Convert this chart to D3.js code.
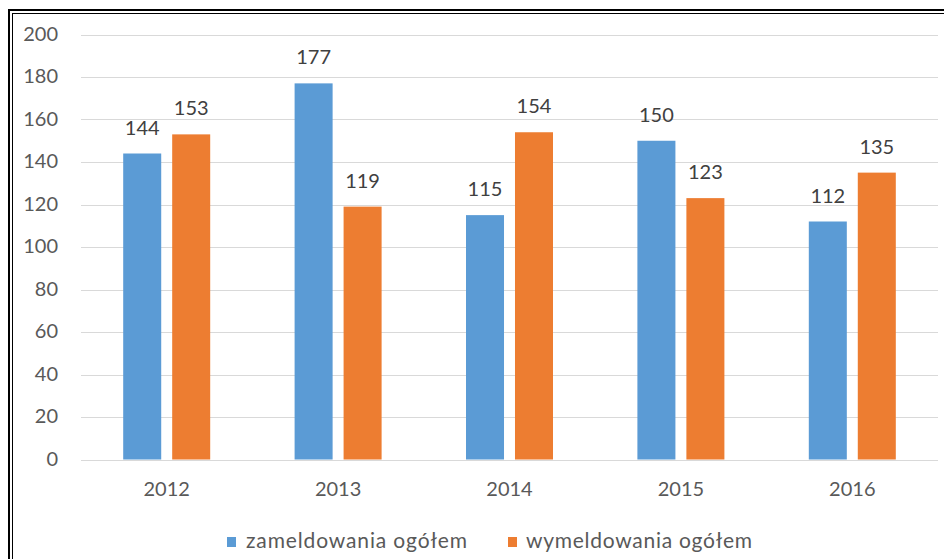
<!DOCTYPE html>
<html><head><meta charset="utf-8">
<script src="https://cdn.jsdelivr.net/npm/d3@7/dist/d3.min.js"></script>
<style>body{margin:0;background:#fff}svg{display:block}</style>
</head><body>
<svg id="c" width="944" height="559"></svg>
<script>
const years = ["2012","2013","2014","2015","2016"];
const seriesNames = ["zameldowania ogółem","wymeldowania ogółem"];
const zameldowania = [144,177,115,150,112];
const wymeldowania = [153,119,154,123,135];
const yTicks = [0,20,40,60,80,100,120,140,160,180,200];
const colors = ["#5B9BD5","#ED7D31"];

const svg = d3.select("#c");
const font = "Lato, 'Open Sans', sans-serif";

// border
svg.append("rect").attr("x",9).attr("y",10).attr("width",1000).attr("height",1000)
  .attr("fill","none").attr("stroke","#000").attr("stroke-width",2);
svg.append("rect").attr("x",12.5).attr("y",13.5).attr("width",1000).attr("height",1000)
  .attr("fill","none").attr("stroke","#000").attr("stroke-width",1);

const left=81, right=938;
const y = d3.scaleLinear().domain([0,200]).range([459.5,34.5]);
const x0 = d3.scaleBand().domain(years).range([left,right]).padding(0);
const groupW = 87;
const x1 = d3.scaleBand().domain(seriesNames).range([0,groupW]).paddingInner(0.224).paddingOuter(0);

// gridlines
svg.append("g").selectAll("line.grid").data(yTicks).join("line").attr("class","grid")
  .attr("x1",left).attr("x2",right)
  .attr("y1",d=>Math.round(y(d))+0.5).attr("y2",d=>Math.round(y(d))+0.5)
  .attr("stroke","#D9D9D9").attr("stroke-width",1);

// y tick labels
svg.append("g").selectAll("text.ytick").data(yTicks).join("text").attr("class","ytick")
  .attr("x",58).attr("y",d=>y(d)).attr("dy","0.3em")
  .attr("text-anchor","end").attr("font-family",font).attr("font-size",20)
  .attr("fill","#595959").text(d=>String(d));

// bars and labels
const items = [];
years.forEach((yr,i)=>{
  [zameldowania[i], wymeldowania[i]].forEach((v,j)=>{
    items.push({year:yr, s:seriesNames[j], j:j, v:v, label:String(v)});
  });
});
const xPos = d => x0(d.year) + (x0.bandwidth()-groupW)/2 + x1(d.s);

svg.append("g").selectAll("rect.bar").data(items).join("rect").attr("class","bar")
  .attr("x",xPos).attr("width",x1.bandwidth())
  .attr("y",d=>y(d.v)).attr("height",d=>y(0)-y(d.v))
  .attr("fill",d=>colors[d.j]);

svg.append("g").selectAll("text.lbl").data(items).join("text").attr("class","lbl")
  .attr("x",d=>xPos(d)+x1.bandwidth()/2)
  .attr("y",d=>y(d.v)-19)
  .attr("text-anchor","middle").attr("font-family",font).attr("font-size",20)
  .attr("fill","#404040").text(d=>d.label);

// x labels
svg.append("g").selectAll("text.xlbl").data(years).join("text").attr("class","xlbl")
  .attr("x",d=>x0(d)+x0.bandwidth()/2).attr("y",495.5)
  .attr("text-anchor","middle").attr("font-family",font).attr("font-size",20)
  .attr("fill","#595959").text(d=>d);

// legend
const legX = [227,508], legTextX=[246,526], legLen=[221,226];
const legItems = seriesNames.map((n,i)=>({name:n, i:i}));
const leg = svg.append("g").selectAll("g.leg").data(legItems).join("g").attr("class","leg");
leg.append("rect").attr("x",d=>legX[d.i]).attr("y",537).attr("width",9).attr("height",10)
  .attr("fill",d=>colors[d.i]);
leg.append("text").attr("x",d=>legTextX[d.i]).attr("y",548)
  .attr("font-family",font).attr("font-size",21).attr("fill","#595959")
  .attr("textLength",d=>legLen[d.i]).attr("lengthAdjust","spacing")
  .text(d=>d.name);
</script>
</body></html>
